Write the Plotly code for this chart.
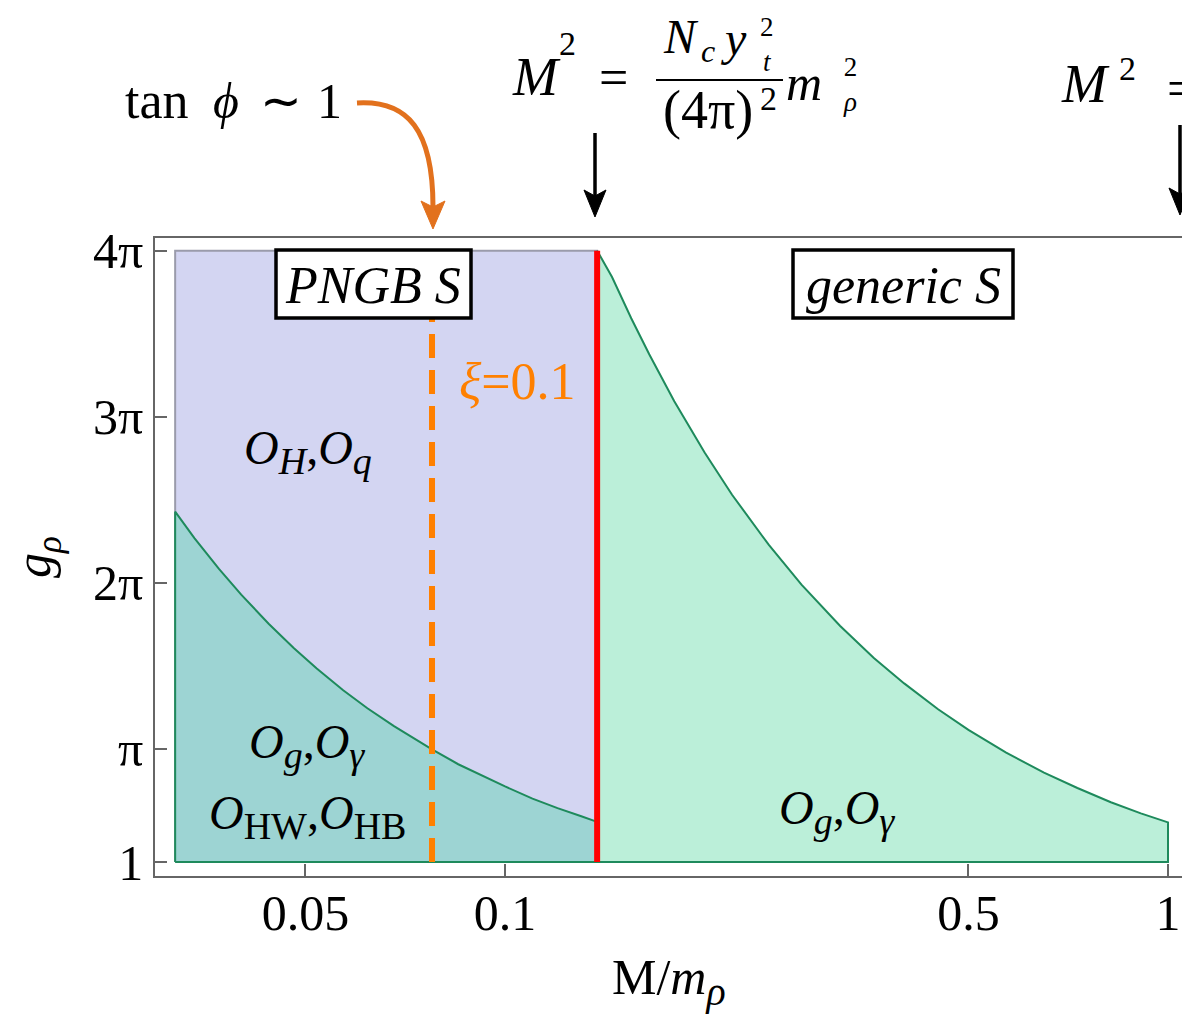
import math
import plotly.graph_objects as go

PI = math.pi

# ---------------- data ----------------
# lower-left boundary (operators O_g, O_gamma, O_HW, O_HB) : g_rho vs M/m_rho
M_left = [0.0318, 0.034, 0.037, 0.040, 0.044, 0.048, 0.052, 0.057, 0.062, 0.068,
          0.0776, 0.085, 0.093, 0.100, 0.110, 0.120, 0.130, 0.1377]
g_left = [7.63, 7.13, 6.55, 6.06, 5.51, 5.05, 4.66, 4.25, 3.91, 3.57,
          3.13, 2.85, 2.61, 2.43, 2.20, 2.02, 1.87, 1.76]
# generic-S boundary (O_g, O_gamma)
M_right = [0.1377, 0.145, 0.155, 0.165, 0.18, 0.20, 0.22, 0.25, 0.28, 0.32,
           0.36, 0.40, 0.45, 0.50, 0.57, 0.65, 0.73, 0.82, 0.91, 1.00]
g_right = [12.57, 12.07, 11.29, 10.61, 9.72, 8.75, 7.95, 7.00, 6.25, 5.47,
           4.86, 4.38, 3.89, 3.50, 3.07, 2.69, 2.40, 2.13, 1.92, 1.75]
M_min, M_max = 0.0318, 1.0
M_pngb = 0.1377          # M^2 = Nc yt^2/(4pi)^2 m_rho^2
M_xi = 0.0776            # xi = 0.1
g_min, g_max = 1.0, 4 * PI

x_tickvals = [0.05, 0.1, 0.5, 1.0]
x_ticktext = ["0.05", "0.1", "0.5", "1"]
y_tickvals = [1, PI, 2 * PI, 3 * PI, 4 * PI]
y_ticktext = ["1", "π", "2π", "3π", "4π"]

# ---------------- styling ----------------
FONT = "Liberation Serif, Times New Roman, serif"
W, H = 1182, 1021
ML, MR, MT, MB = 155, 0, 238, 145
BLUE = "#d3d5f2"
TEAL = "#9dd4d3"
GREEN = "#bbefd9"
DGREEN = "#1e8a5c"
ORANGE = "#ff8000"
DORANGE = "#e2711d"


def px(x):
    return (x - ML) / (W - ML - MR)


def py(y):
    return (H - MB - y) / (H - MT - MB)


def T(text, x, y, size, color="black", xa="center", ya="middle", angle=0):
    return dict(text=text, x=px(x), y=py(y), xref="paper", yref="paper",
                xanchor=xa, yanchor=ya, showarrow=False, textangle=angle,
                font=dict(family=FONT, size=size, color=color))


def G(text, x, baseline, size, color="black", xa="center"):
    """place a text by its baseline"""
    return T(text, x, baseline - 0.34 * size, size, color=color, xa=xa)


def P(pts):
    return "%.5f,%.5f" % (px(pts[0]), py(pts[1]))


def sub(s, size):
    return "<sub><span style='font-size:%dpx'>%s</span></sub>" % (size, s)


fig = go.Figure()

# PNGB region (rectangle)
fig.add_trace(go.Scatter(
    x=[M_min, M_pngb, M_pngb, M_min, M_min],
    y=[g_min, g_min, g_max, g_max, g_min],
    mode="lines", fill="toself", fillcolor=BLUE,
    line=dict(color="#9a9bab", width=2), hoverinfo="skip"))

# lower-left overlap region
fig.add_trace(go.Scatter(
    x=[M_min] + M_left + [M_pngb, M_min],
    y=[g_min] + g_left + [g_min, g_min],
    mode="lines", fill="toself", fillcolor=TEAL,
    line=dict(color=DGREEN, width=2), hoverinfo="skip"))

# generic S region
fig.add_trace(go.Scatter(
    x=M_right + [M_max, M_pngb, M_pngb],
    y=g_right + [g_min, g_min, g_right[0]],
    mode="lines", fill="toself", fillcolor=GREEN,
    line=dict(color=DGREEN, width=2), hoverinfo="skip"))

# xi = 0.1 dashed line
fig.add_trace(go.Scatter(
    x=[M_xi, M_xi], y=[g_min, g_max], mode="lines",
    line=dict(color=ORANGE, width=6, dash="24px,12px"), hoverinfo="skip"))

# M^2 = Nc yt^2/(4pi)^2 line
fig.add_trace(go.Scatter(
    x=[M_pngb, M_pngb], y=[g_min, g_max], mode="lines",
    line=dict(color="#ff0000", width=6), hoverinfo="skip"))

shapes = []
# label boxes
for (x0, x1) in [(276, 471), (793, 1013)]:
    shapes.append(dict(type="rect", xref="paper", yref="paper",
                       x0=px(x0), x1=px(x1), y0=py(318), y1=py(250),
                       line=dict(color="black", width=3.5), fillcolor="white",
                       layer="above"))
# fraction bar
shapes.append(dict(type="line", xref="paper", yref="paper",
                   x0=px(656), x1=px(783), y0=py(80), y1=py(80),
                   line=dict(color="black", width=2)))
# black arrows
for (ax, y0, y1) in [(595, 133, 217), (1180, 125, 215)]:
    shapes.append(dict(type="line", xref="paper", yref="paper",
                       x0=px(ax), x1=px(ax), y0=py(y0), y1=py(y1 - 20),
                       line=dict(color="black", width=3.5)))
    shapes.append(dict(type="path", xref="paper", yref="paper",
                       path="M %s L %s L %s L %s Z" % (P((ax, y1)), P((ax - 11, y1 - 27)),
                                                       P((ax, y1 - 21)), P((ax + 11, y1 - 27))),
                       fillcolor="black", line=dict(color="black", width=1)))
# orange curved arrow
shapes.append(dict(type="path", xref="paper", yref="paper",
                   path="M %s C %s %s %s" % (P((357, 103)), P((408, 100)),
                                             P((433, 130)), P((433, 207))),
                   line=dict(color=DORANGE, width=5)))
shapes.append(dict(type="path", xref="paper", yref="paper",
                   path="M %s L %s L %s L %s Z" % (P((433, 229)), P((421, 201)),
                                                   P((433, 207)), P((445, 201))),
                   fillcolor=DORANGE, line=dict(color=DORANGE, width=1)))

annotations = [
    T("<i>PNGB S</i>", 373, 285, 52),
    T("<i>generic S</i>", 903, 285, 52),
    G("<i>O</i>" + sub("<i>H</i>", 38) + ",<i>O</i>" + sub("<i>q</i>", 38), 308, 468, 48),
    G("<i>O</i>" + sub("<i>g</i>", 38) + ",<i>O</i>" + sub("<i>γ</i>", 38), 307, 762, 48),
    G("<i>O</i>" + sub("HW", 38) + ",<i>O</i>" + sub("HB", 38), 307, 833, 48),
    G("<i>O</i>" + sub("<i>g</i>", 38) + ",<i>O</i>" + sub("<i>γ</i>", 38), 837, 828, 48),
    G("<i>ξ</i>=0.1", 517, 399, 52, color=ORANGE),
    # axis titles
    G("M/<i>m</i>" + sub("<i>ρ</i>", 40), 669, 998, 50),
    T("<i>g</i><sub><i>ρ</i></sub>", 37, 557, 50, angle=-90),
    # top-left label
    G("tan", 157, 118, 52),
    G("<i>ϕ</i>", 226, 118, 50),
    G("∼", 281, 118, 50),
    G("1", 329, 118, 50),
    # central formula
    G("<i>M</i>", 536, 95, 54),
    G("2", 567, 55, 34),
    G("=", 613, 95, 52),
    G("<i>N</i>", 681, 53, 48),
    G("<i>c</i>", 708, 62, 32),
    G("<i>y</i>", 733, 55, 48),
    T("2<br><i>t</i>", 767, 44, 27),
    G("(4π)", 708, 128, 54),
    G("2", 768, 110, 34),
    G("<i>m</i>", 804, 100, 50),
    T("2<br><i>ρ</i>", 850, 85, 27),
    # right formula (cut at the edge)
    G("<i>M</i>", 1085, 102, 54),
    G("2", 1127, 80, 34),
    G("=", 1165, 106, 52, xa="left"),
]

fig.update_layout(
    width=W, height=H,
    margin=dict(l=ML, r=MR, t=MT, b=MB, pad=0),
    paper_bgcolor="white", plot_bgcolor="white",
    showlegend=False,
    shapes=shapes, annotations=annotations,
    xaxis=dict(type="log", range=[math.log10(0.02965), math.log10(1.0498)],
               tickvals=x_tickvals, ticktext=x_ticktext,
               showline=True, linecolor="#666", linewidth=1.5, mirror=True,
               ticks="inside", ticklen=12, tickwidth=1.5, tickcolor="#666",
               showgrid=False, zeroline=False, ticklabelstandoff=-8,
               tickfont=dict(family=FONT, size=50, color="black")),
    yaxis=dict(range=[0.735, 12.809],
               tickvals=y_tickvals, ticktext=y_ticktext,
               showline=True, linecolor="#666", linewidth=1.5, mirror=False,
               ticks="inside", ticklen=12, tickwidth=1.5, tickcolor="#666",
               showgrid=False, zeroline=False,
               tickfont=dict(family=FONT, size=50, color="black")),
)

fig.write_html(
    "out.html",
    config={"displayModeBar": False},
    post_script="document.body.style.margin='0';document.body.style.overflow='hidden';",
)
